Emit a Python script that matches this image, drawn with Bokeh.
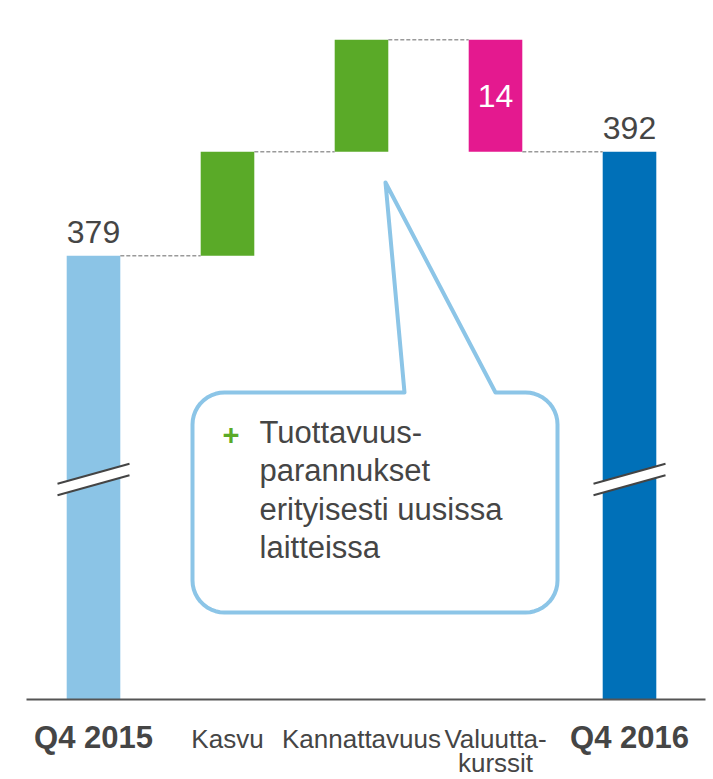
import numpy as np
from bokeh.plotting import figure
from bokeh.models import Range1d
from bokeh.core.properties import value
from bokeh.embed import file_html
from bokeh.resources import INLINE

# ---------------- data ----------------
categories = ["Q4 2015", "Kasvu", "Kannattavuus", "Valuutta-\nkurssit", "Q4 2016"]
bar_kind = ["total", "delta", "delta", "delta", "total"]
start_total = 379
deltas = [13, 14, -14]
end_total = 392
show_value = [True, False, False, True, True]
bar_colors = ["#8BC4E6", "#5AAA28", "#5AAA28", "#E4198F", "#0070B8"]
callout_bullet = "+"
callout_lines = ["Tuottavuus-", "parannukset", "erityisesti uusissa", "laitteissa"]

# ---------------- layout / style ----------------
W, H = 713, 779
FONT = "Liberation Sans"
TEXT = "#454545"
PX_PER_CAT = 134.0     # px between category centres
CAT0_PX = 93.0         # px of first category centre from plot's left edge
PX_PER_UNIT = 8.0      # px per value unit (broken axis)
REF_VALUE = 392
REF_PX = 151.3         # px from plot top where REF_VALUE sits
BAR_W = 0.40


def dx(px):
    return (px - CAT0_PX) / PX_PER_CAT


def dy(py):
    return REF_VALUE - (py - REF_PX) / PX_PER_UNIT


FLOOR = dy(699)        # baseline of the broken axis
BREAK_Y = dy(479)      # where total bars are broken

p = figure(width=W, height=H, output_backend="svg", toolbar_location=None,
           x_range=Range1d(dx(0), dx(W)), y_range=Range1d(dy(H), dy(0)),
           x_axis_location=None, y_axis_location=None, min_border=0)
p.grid.visible = False
p.outline_line_color = None
p.background_fill_color = "white"
p.border_fill_color = "white"

# ---------------- waterfall geometry from data ----------------
xs = list(range(len(categories)))
bottoms, tops, levels = [], [], []
run = start_total
di = 0
for k in bar_kind:
    if k == "total":
        v = start_total if not tops else end_total
        bottoms.append(FLOOR)
        tops.append(v)
        run = v
    else:
        d = deltas[di]
        di += 1
        bottoms.append(min(run, run + d))
        tops.append(max(run, run + d))
        run += d
    levels.append(run)

p.vbar(x=xs, width=BAR_W, bottom=bottoms, top=tops, fill_color=bar_colors,
       line_color=None)

# connectors
p.segment(x0=[x + BAR_W / 2 for x in xs[:-1]], y0=levels[:-1],
          x1=[x + 1 - BAR_W / 2 for x in xs[:-1]], y1=levels[:-1],
          line_color="#9A9A9A", line_width=1.5, line_dash="4 2")

# baseline
p.segment(x0=[xs[0] - 0.5], y0=[FLOOR], x1=[dx(705)], y1=[FLOOR],
          line_color="#555555", line_width=2)

# break marks on total bars
h = 36 / PX_PER_CAT
g = 5.75 / PX_PER_UNIT
t = 10 / PX_PER_UNIT
for x, k in zip(xs, bar_kind):
    if k != "total":
        continue
    p.patch(x=[x - h, x + h, x + h, x - h],
            y=[BREAK_Y - g - t, BREAK_Y - g + t, BREAK_Y + g + t, BREAK_Y + g - t],
            fill_color="white", line_color=None)
    p.segment(x0=[x - h, x - h], y0=[BREAK_Y + g - t, BREAK_Y - g - t],
              x1=[x + h, x + h], y1=[BREAK_Y + g + t, BREAK_Y - g + t],
              line_color="#444444", line_width=2)

# value labels (text_baseline "middle": anchor is the glyph centre)
for x, k, b, tp, sv in zip(xs, bar_kind, bottoms, tops, show_value):
    if not sv:
        continue
    if k == "total":
        p.text(x=[x], y=[tp], text=[str(tp)], text_align="center",
               text_baseline="middle", y_offset=-24,
               text_font=value(FONT), text_font_size="32px", text_color=TEXT)
    else:
        p.text(x=[x], y=[(b + tp) / 2], text=[str(int(tp - b))], text_align="center",
               text_baseline="middle", text_font=value(FONT),
               text_font_size="32px", text_color="white")

# category labels
for x, k, c in zip(xs, bar_kind, categories):
    for li, line in enumerate(c.split("\n")):
        p.text(x=[x], y=[FLOOR], text=[line], text_align="center",
               text_baseline="middle",
               y_offset=(38 if k == "total" else 39) + li * 24,
               text_font=value(FONT),
               text_font_size="31px" if k == "total" else "26px",
               text_font_style="bold" if k == "total" else "normal",
               text_color=TEXT)

# ---------------- callout ----------------
L, R, T, B, r = 192, 557, 392, 612, 32
pts = [(404, T), (385, 182), (495, T), (R - r, T)]


def arc(cx, cy, a0, a1):
    a = np.radians(np.linspace(a0, a1, 12))
    return list(zip(cx + r * np.cos(a), cy + r * np.sin(a)))


pts += arc(R - r, T + r, -90, 0)
pts += arc(R - r, B - r, 0, 90)
pts += arc(L + r, B - r, 90, 180)
pts += arc(L + r, T + r, 180, 270)
pts.append((404, T))
p.patch(x=[dx(a) for a, _ in pts], y=[dy(b) for _, b in pts],
        fill_color="white", line_color="#8CC5E7", line_width=4,
        line_join="round")

p.text(x=[dx(222)], y=[dy(434)], text=[callout_bullet], text_align="left",
       text_baseline="middle", text_font=value(FONT), text_font_size="29px",
       text_font_style="bold", text_color="#5AAA28")
for i, line in enumerate(callout_lines):
    p.text(x=[dx(259)], y=[dy(432 + 38.3 * i)], text=[line], text_align="left",
           text_baseline="middle", text_font=value(FONT),
           text_font_size="31px", text_color=TEXT)

open("out.html", "w").write(file_html(p, INLINE))
